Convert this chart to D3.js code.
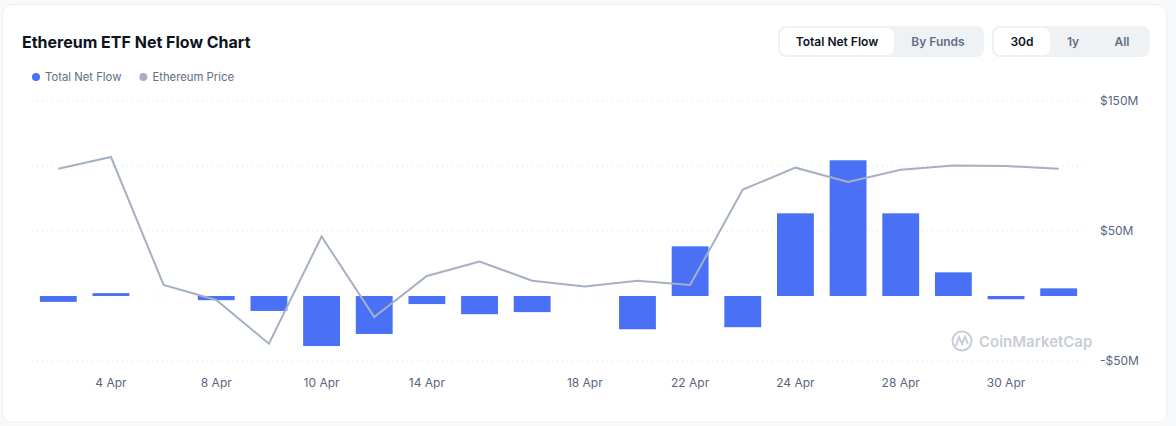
<!DOCTYPE html>
<html>
<head>
<meta charset="utf-8">
<script src="https://cdn.jsdelivr.net/npm/d3@7/dist/d3.min.js"></script>
<style>
  html, body { margin: 0; padding: 0; background: #f8f9fb; }
  svg { display: block; font-family: Inter, "Noto Sans", sans-serif; }
</style>
</head>
<body>
<svg id="chart" width="1176" height="426"></svg>
<script>
// ---- data ----
const dates = ["3 Apr","4 Apr","7 Apr","8 Apr","9 Apr","10 Apr","11 Apr","14 Apr","15 Apr","16 Apr","18 Apr",
               "21 Apr","22 Apr","23 Apr","24 Apr","25 Apr","28 Apr","29 Apr","30 Apr","1 May"];
const netFlow = [-4.5, 2.2, 0, -3.2, -11.5, -38.5, -29.2, -6.2, -14.0, -12.4, 0,
                 -25.6, 38.2, -24.0, 63.6, 104.4, 63.6, 18.2, -2.5, 5.9]; // $M
const ethPrice = [1798, 1820, 1580, 1552, 1470, 1671, 1520, 1597, 1624, 1588, 1577,
                  1588, 1580, 1759, 1800, 1773, 1796, 1804, 1803, 1798]; // USD
const xTickLabels = ["4 Apr","8 Apr","10 Apr","14 Apr","18 Apr","22 Apr","24 Apr","28 Apr","30 Apr"];
const yTicks = [-50, 0, 50, 100, 150];
const yTickLabels = {"-50": "-$50M", "50": "$50M", "150": "$150M"};
const legendItems = [{name: "Total Net Flow", color: "#4a70f5"}, {name: "Ethereum Price", color: "#a6b0c3"}];
const tabs1 = ["Total Net Flow", "By Funds"];
const tabs2 = ["30d", "1y", "All"];

const svg = d3.select("#chart");

// card
svg.append("rect").attr("x", 2.5).attr("y", 4.5).attr("width", 1164).attr("height", 418)
  .attr("rx", 10).attr("fill", "#fff").attr("stroke", "#eef0f3");

// title
svg.append("text").attr("x", 22).attr("y", 48).text("Ethereum ETF Net Flow Chart")
  .attr("font-size", 16).attr("font-weight", 700).attr("fill", "#0d1421");

// legend
const lg = svg.append("g");
let lx = 36;
legendItems.forEach(d => {
  lg.append("circle").attr("cx", lx).attr("cy", 77).attr("r", 4).attr("fill", d.color);
  const t = lg.append("text").attr("x", lx + 9).attr("y", 81).text(d.name)
    .attr("font-size", 11.3).attr("fill", "#616e85");
  lx += t.node().getComputedTextLength() + 31;
});

// tab groups
function tabGroup(x0, labels, widths, activeIdx) {
  const total = d3.sum(widths) + 4;
  const g = svg.append("g");
  g.append("rect").attr("x", x0).attr("y", 26).attr("width", total).attr("height", 31)
    .attr("rx", 8).attr("fill", "#eff2f5");
  let x = x0 + 2;
  labels.forEach((l, i) => {
    if (i === activeIdx) {
      g.append("rect").attr("x", x).attr("y", 28).attr("width", widths[i]).attr("height", 27)
        .attr("rx", 7).attr("fill", "#fff");
    }
    g.append("text").attr("x", x + widths[i] / 2).attr("y", 46).attr("text-anchor", "middle")
      .text(l).attr("font-size", 12).attr("font-weight", 600)
      .attr("fill", i === activeIdx ? "#0d1421" : "#616e85");
    x += widths[i];
  });
}
tabGroup(778, tabs1, [114, 88], 0);
tabGroup(992, tabs2, [56, 46, 52], 0);

// scales
const x = d3.scaleBand().domain(dates).range([32, 1085]).paddingInner(0.3).paddingOuter(0.15);
const y = d3.scaleLinear().domain([-50, 150]).range([361, 101]);
const yPrice = d3.scaleLinear().domain([1437.5, 1925]).range([361, 101]);

// gridlines
svg.append("g").selectAll("line").data(yTicks).join("line")
  .attr("x1", 32).attr("x2", 1085).attr("y1", d => y(d)).attr("y2", d => y(d))
  .attr("stroke", "#dde1e7").attr("stroke-width", 1).attr("stroke-dasharray", "1,4");

// y labels
svg.append("g").selectAll("text").data(yTicks.filter(d => yTickLabels[d])).join("text")
  .attr("x", 1100).attr("y", d => y(d) + 4).text(d => yTickLabels[d])
  .attr("font-size", 12).attr("fill", "#58667e");

// watermark
const wm = svg.append("g").attr("fill", "none").attr("stroke", "#c8cdd6").attr("stroke-width", 2);
wm.append("circle").attr("cx", 962).attr("cy", 341).attr("r", 9.5);
wm.append("path").attr("d", "M956,346 L959,337 L962,344 L965,337 L968,344");
svg.append("text").attr("x", 979).attr("y", 347).text("CoinMarketCap")
  .attr("font-size", 15).attr("font-weight", 600).attr("fill", "#c8cdd6");

// bars
svg.append("g").selectAll("rect").data(dates).join("rect")
  .attr("x", d => x(d)).attr("width", x.bandwidth())
  .attr("y", (d, i) => y(Math.max(0, netFlow[i])))
  .attr("height", (d, i) => Math.abs(y(netFlow[i]) - y(0)))
  .attr("fill", "#4a70f5");

// price line
const line = d3.line().x((d, i) => x(dates[i]) + x.bandwidth() / 2).y(d => yPrice(d));
svg.append("path").datum(ethPrice).attr("d", line)
  .attr("fill", "none").attr("stroke", "#a6b0c3").attr("stroke-width", 2).attr("stroke-linejoin", "miter");

// x labels
svg.append("g").selectAll("text").data(xTickLabels).join("text")
  .attr("x", d => x(d) + x.bandwidth() / 2).attr("y", 387).attr("text-anchor", "middle")
  .text(d => d).attr("font-size", 12).attr("fill", "#58667e");
</script>
</body>
</html>
